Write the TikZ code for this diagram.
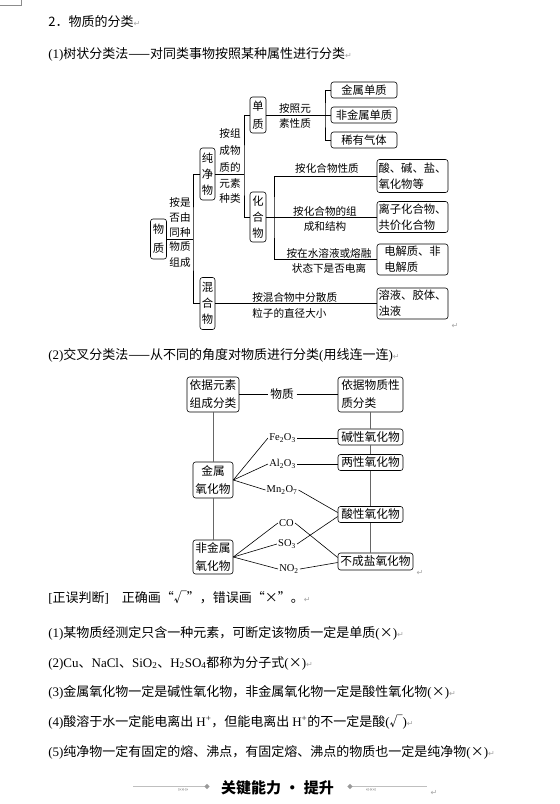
\documentclass[tikz,border=0pt]{standalone}
\usepackage{fontspec}
\setmainfont{Liberation Serif}
\newfontfamily\cjk{Noto Sans CJK SC}
\newfontfamily\djvu{DejaVu Sans}
\newcommand\lt[1]{{\rmfamily #1}}
\newcommand\rtm{{\djvu\fontsize{8}{8}\selectfont\color{black!35}↵}}
\begin{document}
\begin{tikzpicture}[x=1pt,y=-1pt,line width=0.6pt,
  body/.style={anchor=west,inner sep=0,font=\cjk\fontsize{13}{15}\selectfont},
  vb/.style={draw,rounded corners=2.5pt,inner sep=0,align=center,minimum width=16,font=\cjk\fontsize{11.3}{16}\selectfont},
  hb/.style={draw,rounded corners=2.5pt,inner sep=0,align=left,font=\cjk\fontsize{11.3}{16}\selectfont},
  lb/.style={inner sep=0,align=center,font=\cjk\fontsize{10.6}{15}\selectfont},
  b2/.style={draw,rounded corners=2.5pt,inner sep=0,font=\cjk\fontsize{11.7}{18}\selectfont},
  fm/.style={inner sep=1,font=\fontsize{10.5}{12}\selectfont},
  gl/.style={draw=black!60,line width=0.9pt},
  ret/.style={inner sep=0}]
\useasboundingbox (0,0) rectangle (560,804);
\fill[white] (0,0) rectangle (560,804);
% crop mark
\draw[black!45,line width=0.5pt] (0,5) -- (21,5) -- (21,0);

% ---- body text ----
\node[body] (t1) at (48,22) {2．物质的分类\rtm};
\node[body] (t2) at (48,54) {\lt{(1)}树状分类法——对同类事物按照某种属性进行分类\rtm};
\node[body] (t3) at (48,355) {\lt{(2)}交叉分类法——从不同的角度对物质进行分类\lt{(}用线连一连\lt{)}\rtm};
\node[body] (t4) at (48,598) {\lt{[}正误判断\lt{]}\hspace{13pt}正确画“√”，错误画“×”。\rtm};
\node[body] (t5) at (48,633) {\lt{(1)}某物质经测定只含一种元素，可断定该物质一定是单质\lt{(}×\lt{)}\rtm};
\node[body] (t6) at (48,663) {\lt{(2)Cu}、\lt{NaCl}、\lt{SiO\textsubscript{2}}、\lt{H\textsubscript{2}SO\textsubscript{4}}都称为分子式\lt{(}×\lt{)}\rtm};
\node[body] (t7) at (48,692) {\lt{(3)}金属氧化物一定是碱性氧化物，非金属氧化物一定是酸性氧化物\lt{(}×\lt{)}\rtm};
\node[body] (t8) at (48,722) {\lt{(4)}酸溶于水一定能电离出 \lt{H\textsuperscript{+}}，但能电离出 \lt{H\textsuperscript{+}}的不一定是酸\lt{(}√\lt{)}\rtm};
\node[body] (t9) at (48,752) {\lt{(5)}纯净物一定有固定的熔、沸点，有固定熔、沸点的物质也一定是纯净物\lt{(}×\lt{)}\rtm};

% ---- tree diagram ----
\node[vb,minimum height=40] (wz) at (158.5,239) {物\\[3pt]质};
\node[vb,minimum height=52,minimum width=15] (cjw) at (207.5,174) {纯\\净\\物};
\node[vb,minimum height=52,minimum width=15] (hhw) at (207.5,303.5) {混\\合\\物};
\node[vb,minimum height=36] (dz) at (258,115) {单\\[2pt]质};
\node[vb,minimum height=50] (hhw2) at (258,217) {化\\合\\物};

\node[hb,align=center,minimum width=66,minimum height=16] (jsdz) at (364,90) {金属单质};
\node[hb,align=center,minimum width=66,minimum height=16] (fjsdz) at (364,115) {非金属单质};
\node[hb,align=center,minimum width=66,minimum height=16] (xyqt) at (364,140) {稀有气体};

\node[hb,minimum width=71,minimum height=33] (ajy) at (412.5,176) {酸、碱、盐、\\氧化物等};
\node[hb,minimum width=71,minimum height=31] (lz) at (412.5,217) {离子化合物、\\共价化合物};
\node[hb,minimum width=71,minimum height=31] (djz) at (412.5,259.5) {电解质、非\\电解质};
\node[hb,minimum width=71,minimum height=31] (ry) at (412.5,303.5) {溶液、胶体、\\浊液};

\node[lb] (l1a) at (180,217) {按是\\否由\\同种};
\node[lb,font=\cjk\fontsize{10.6}{16}\selectfont] (l1b) at (180,255) {物质\\组成};
\node[lb,font=\cjk\fontsize{10.6}{17}\selectfont] (l2a) at (230,150) {按组\\成物\\质的};
\node[lb] (l2b) at (230,190.5) {元素\\种类};
\node[lb] (l3) at (295,115.5) {按照元\\素性质};
\node[lb] (l4) at (327,168) {按化合物性质};
\node[lb,font=\cjk\fontsize{10.6}{14.5}\selectfont] (l5) at (325,219) {按化合物的组\\成和结构};
\node[lb] (l6) at (329,261) {按在水溶液或熔融\\状态下是否电离};
\node[lb,align=left,anchor=west,font=\cjk\fontsize{10.6}{16}\selectfont] (l7) at (252,305.5) {按混合物中分散质\\粒子的直径大小};

\coordinate (j1) at (193,239);
\coordinate (j2) at (244,174);
\coordinate (j3) at (325,115);
\coordinate (j4) at (274,217);
\draw (wz.east) -- (j1);
\draw (cjw.west) -| (j1) |- (hhw.west);
\draw (cjw.east) -- (j2);
\draw (dz.west) -| (j2) |- (hhw2.west);
\draw (dz.east) -- (j3);
\draw (jsdz.west) -| (j3) |- (xyqt.west);
\draw (fjsdz.west) -- (j3);
\draw (hhw2.east) -- (lz.west);
\draw (ajy.west) -| (j4) |- (djz.west);
\draw (hhw.east) -- (hhw.east -| ry.west);
\node[ret] (r1) at (455,326) {\rtm};

% ---- cross classification ----
\node[b2,minimum width=52,minimum height=35,align=center] (ys) at (213,394.5) {依据元素\\组成分类};
\node[inner sep=2.5,font=\cjk\fontsize{11.7}{14}\selectfont] (wzm) at (282,394.5) {物质};
\node[b2,minimum width=65,minimum height=35,align=left] (xz) at (370.5,394.5) {依据物质性\\质分类};
\node[b2,minimum width=40,minimum height=36,align=center] (jsy) at (213,480) {金属\\氧化物};
\node[b2,minimum width=40,minimum height=34,align=center] (fjsy) at (213,557) {非金属\\氧化物};
\node[b2,minimum width=65,minimum height=16] (jx) at (370.5,437) {碱性氧化物};
\node[b2,minimum width=65,minimum height=16] (lx) at (370.5,462.5) {两性氧化物};
\node[b2,minimum width=65,minimum height=16] (sx) at (370.5,514.5) {酸性氧化物};
\node[b2,minimum width=75,minimum height=17] (bcy) at (375.5,561.5) {不成盐氧化物};

\node[fm] (fe) at (282.5,438) {Fe\textsubscript{2}O\textsubscript{3}};
\node[fm] (al) at (282.5,464) {Al\textsubscript{2}O\textsubscript{3}};
\node[fm] (mn) at (282,490) {Mn\textsubscript{2}O\textsubscript{7}};
\node[fm] (co) at (286.5,523) {CO};
\node[fm] (so) at (287,544) {SO\textsubscript{3}};
\node[fm] (no) at (289,569) {NO\textsubscript{2}};

\draw (ys.east) -- (wzm.west);
\draw (wzm.east) -- (xz.west);
\draw[gl] (ys.south) -- (jsy.north);
\draw[gl] (jsy.south) -- (fjsy.north);
\draw[gl] (xz.south) -- (jx.north);
\draw[gl] (jx.south) -- (lx.north);
\draw[gl] (lx.south) -- (sx.north);
\draw[gl] (sx.south) -- (sx.south |- bcy.north);

\draw (jsy.east) -- (fe.west);
\draw (jsy.east) -- (al.west);
\draw (jsy.east) -- (mn.west);
\draw (fjsy.east) -- (co.west);
\draw (fjsy.east) -- (so.west);
\draw (fjsy.east) -- (no.west);
\draw (fe.east) -- (fe.east -| jx.west);
\draw (al.east) -- (al.east -| lx.west);
\draw (mn.east) -- ([yshift=2pt]sx.west);
\draw (so.east) -- ([yshift=-2pt]sx.west);
\draw (co.east) -- ([yshift=4pt]bcy.west);
\draw (no.east) -- ([yshift=-1pt]bcy.west);
\node[ret] (r2) at (420,573) {\rtm};

% ---- footer ----
\node[inner sep=0,font=\cjk\bfseries\fontsize{15}{15}\selectfont] (ft) at (277.5,787.5) {关键能力\hspace{4pt}·\hspace{4pt}提升};
\draw[black!25,line width=1pt] (133,786.5) -- (205,786.5);
\draw[black!25,line width=1pt] (352,786.5) -- (427,786.5);
\fill[black!40] (207,783.8) -- (209.7,786.5) -- (207,789.2) -- (204.3,786.5) -- cycle;
\fill[black!40] (350,783.8) -- (352.7,786.5) -- (350,789.2) -- (347.3,786.5) -- cycle;
\node[inner sep=0,text=black!45,font=\fontsize{7}{7}\selectfont] (chl) at (183,790.5) {>>>>>>};
\node[inner sep=0,text=black!45,font=\fontsize{7}{7}\selectfont] (chr) at (371,790.5) {<<<<<<};
\node[ret] (r3) at (434,793) {\rtm};
\end{tikzpicture}
\end{document}
